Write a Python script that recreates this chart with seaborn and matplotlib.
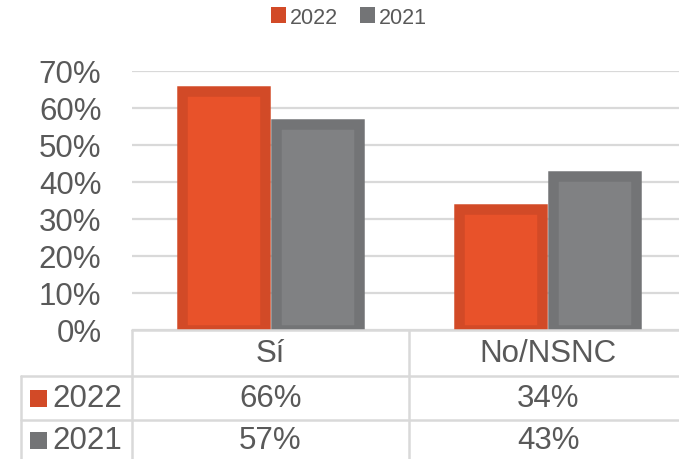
import pandas as pd
import seaborn as sns
import matplotlib.pyplot as plt
from matplotlib.patches import Patch, Rectangle
from matplotlib.lines import Line2D

categories = ["Sí", "No/NSNC"]
years = ["2022", "2021"]
values_2022 = [0.66, 0.34]
values_2021 = [0.57, 0.43]
yticks = [0, 0.1, 0.2, 0.3, 0.4, 0.5, 0.6, 0.7]

fill_colors = {"2022": "#E8522A", "2021": "#808183"}
edge_colors = {"2022": "#D24A27", "2021": "#737476"}
text_color = "#595959"
line_color = "#D9D9D9"

df = pd.DataFrame({
    "categoria": categories * 2,
    "anio": [years[0]] * 2 + [years[1]] * 2,
    "valor": values_2022 + values_2021,
})

sns.set_style("white")
plt.rcParams["font.family"] = ["Liberation Sans", "DejaVu Sans"]

W, H = 679, 460
fig = plt.figure(figsize=(W / 100, H / 100), dpi=100)


def fx(x):
    return x / W


def fy(y):
    return 1 - y / H


# axis area: 0% at y=331, 70% at y=71.5, categories span 132..686 px
ax = fig.add_axes([fx(132), fy(331), (686 - 132) / W, (331 - 71.5) / H])
sns.barplot(data=df, x="categoria", y="valor", hue="anio", hue_order=years,
            palette=fill_colors, saturation=1, width=0.68, ax=ax, legend=False, zorder=3)

# thick inner border like the original (edge drawn inside the bar outline)
lw_px = 10.5
for year, cont in zip(years, ax.containers):
    for bar in cont:
        c = bar.get_x() + bar.get_width() / 2
        w = bar.get_width() - lw_px / 277
        h = bar.get_height() - lw_px / 2 * 0.7 / 259.5
        bar.set_x(c - w / 2)
        bar.set_width(w)
        bar.set_height(h)
        bar.set_facecolor(fill_colors[year])
        bar.set_edgecolor(edge_colors[year])
        bar.set_linewidth(lw_px * 0.72)
        bar.set_joinstyle("miter")

ax.set_xlim(-0.5, 1.5)
ax.set_ylim(0, 0.7)
ax.set_yticks(yticks)
ax.set_yticklabels([f"{t:.0%}" for t in yticks], fontsize=22.5, color=text_color)
ax.tick_params(axis="y", length=0, pad=22)
ax.set_xticks([])
ax.set_xlabel("")
ax.set_ylabel("")
ax.yaxis.grid(True, color=line_color, linewidth=1.6, zorder=0)
ax.set_axisbelow(True)
for s in ax.spines.values():
    s.set_visible(False)

# legend on top
handles = [Patch(facecolor=edge_colors[y], edgecolor="none", label=y) for y in years]
fig.legend(handles=handles, loc="center", bbox_to_anchor=(fx(349), fy(18)), ncol=2,
           frameon=False, fontsize=15.5, handlelength=0.7, handleheight=0.7,
           handletextpad=0.2, columnspacing=1.0, labelcolor=text_color)

# data table below the chart
def hline(x0, x1, y):
    fig.add_artist(Line2D([fx(x0), fx(x1)], [fy(y), fy(y)], color=line_color,
                          linewidth=1.8, transform=fig.transFigure))


def vline(x, y0, y1):
    fig.add_artist(Line2D([fx(x), fx(x)], [fy(y0), fy(y1)], color=line_color,
                          linewidth=1.8, transform=fig.transFigure))


hline(132, W, 331)
hline(21, W, 377)
hline(21, W, 421)
vline(132, 331, H)
vline(409, 331, H)
vline(21, 377, H)

col_centers = [270.5, 548]
for cx, cat in zip(col_centers, categories):
    fig.text(fx(cx), fy(354), cat, ha="center", va="center", fontsize=22.5, color=text_color)

row_centers = [399, 441]
for cy, year, vals in zip(row_centers, years, [values_2022, values_2021]):
    fig.add_artist(Rectangle((fx(30), fy(cy + 8.5)), 17 / W, 17 / H, facecolor=edge_colors[year],
                             edgecolor="none", transform=fig.transFigure))
    fig.text(fx(52), fy(cy), year, ha="left", va="center", fontsize=22.5, color=text_color)
    for cx, v in zip(col_centers, vals):
        fig.text(fx(cx), fy(cy), f"{v:.0%}", ha="center", va="center", fontsize=22.5, color=text_color)

plt.savefig("out.png", dpi=100)
